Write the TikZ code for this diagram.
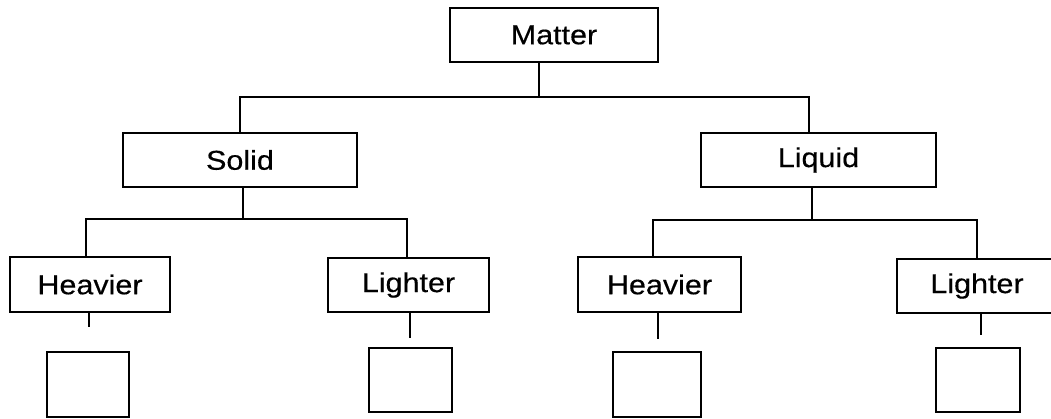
\documentclass[tikz,border=0pt]{standalone}
\usepackage{fontspec}
\setmainfont[FakeStretch=1.12,FakeBold=0.4]{Liberation Sans}
\begin{document}
\begin{tikzpicture}[x=0.02cm,y=-0.02cm,
  box/.style={draw=black,line width=0.9pt,inner sep=0pt,font=\fontsize{15.5pt}{17pt}\selectfont},
  leaf/.style={draw=black,line width=1.6pt,inner sep=0pt},
  link/.style={draw=black,line width=0.85pt},
  stub/.style={draw=black,line width=1.5pt}]
\useasboundingbox (0,0) rectangle (1051,419);
% main boxes
\node[box,minimum width=4.16cm,minimum height=1.08cm] (matter) at (554,35) {Matter};
\node[box,minimum width=4.68cm,minimum height=1.08cm] (solid) at (240,160) {Solid};
\node[box,minimum width=4.70cm,minimum height=1.08cm] (liquid) at (818.5,160) {Liquid};
\node[box,minimum width=3.20cm,minimum height=1.10cm] (heavierA) at (90,284.5) {Heavier};
\node[box,minimum width=3.22cm,minimum height=1.08cm] (lighterA) at (408.5,285) {Lighter};
\node[box,minimum width=3.26cm,minimum height=1.10cm] (heavierB) at (659.5,284.5) {Heavier};
\node[box,minimum width=3.20cm,minimum height=1.08cm] (lighterB) at (977,286) {Lighter};
% empty boxes
\node[leaf,minimum width=1.64cm,minimum height=1.30cm] (emptyA) at (88,384.5) {};
\node[leaf,minimum width=1.66cm,minimum height=1.28cm] (emptyB) at (410.5,380) {};
\node[leaf,minimum width=1.76cm,minimum height=1.30cm] (emptyC) at (657,384.5) {};
\node[leaf,minimum width=1.68cm,minimum height=1.28cm] (emptyD) at (978,380) {};
% top level connectors
\coordinate (mj) at (539,97);
\coordinate (ml) at (240,97);
\coordinate (mr) at (809,97);
\draw[link] (matter.south -| mj) -- (mj);
\draw[link] (solid.north -| ml) -- (ml) -- (mr) -- (liquid.north -| mr);
% solid subtree
\coordinate (sj) at (243,219);
\coordinate (sl) at (86,219);
\coordinate (sr) at (407,219);
\draw[link] (solid.south -| sj) -- (sj);
\draw[link] (heavierA.north -| sl) -- (sl) -- (sr) -- (lighterA.north -| sr);
% liquid subtree
\coordinate (lj) at (812,220);
\coordinate (ll) at (653,220);
\coordinate (lr) at (977,220);
\draw[link] (liquid.south -| lj) -- (lj);
\draw[link] (heavierB.north -| ll) -- (ll) -- (lr) -- (lighterB.north -| lr);
% short stubs below the lower boxes
\coordinate (ea) at (89,327);
\coordinate (eb) at (410,338);
\coordinate (ec) at (658,339);
\coordinate (ed) at (981,335);
\draw[stub] (heavierA.south -| ea) -- (ea);
\draw[stub] (lighterA.south -| eb) -- (eb);
\draw[stub] (heavierB.south -| ec) -- (ec);
\draw[stub] (lighterB.south -| ed) -- (ed);
\end{tikzpicture}
\end{document}
